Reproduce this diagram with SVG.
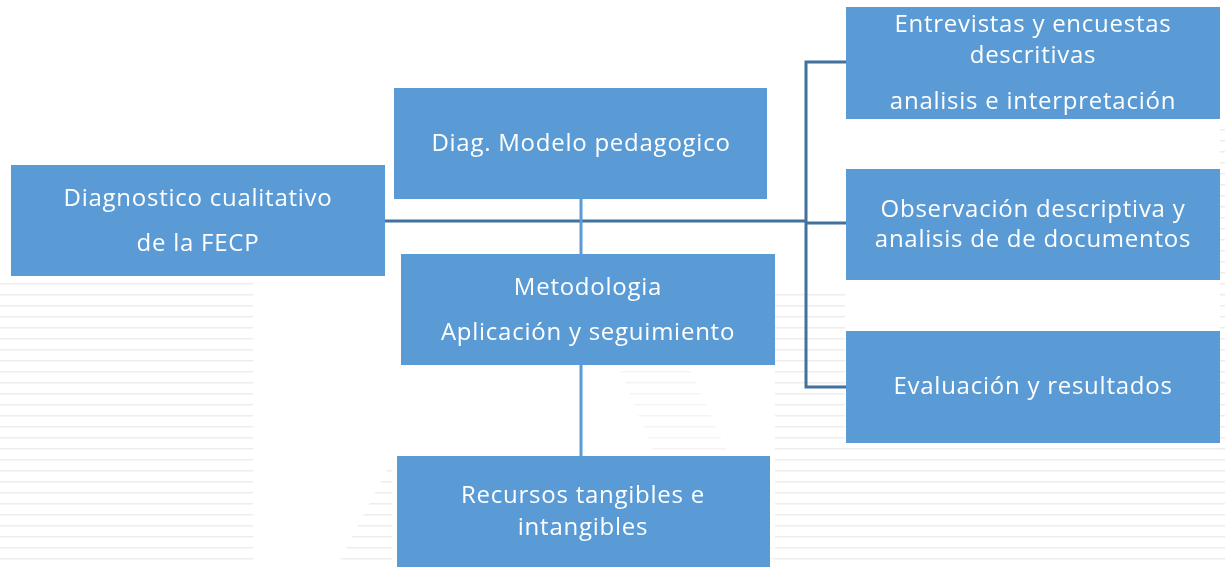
<svg xmlns="http://www.w3.org/2000/svg" width="1225" height="567" viewBox="0 0 1225 567">
<defs>
<pattern id="stripes" x="0" y="1" width="11" height="11" patternUnits="userSpaceOnUse">
<rect x="0" y="7" width="11" height="1.5" fill="#ebe8e8"/>
</pattern>
<style>
.box{fill:#5B9BD5;}
.t{font-family:"Open Sans","Liberation Sans",sans-serif;font-size:24px;letter-spacing:0.75px;fill:#ffffff;text-anchor:middle;}
.c1{stroke:#41719C;stroke-width:3;fill:none;}
.c2{stroke:#5B9BD5;stroke-width:3;fill:none;}
</style>
</defs>
<rect width="1225" height="567" fill="#ffffff"/>
<g id="watermark" opacity="0.8">
<rect x="0" y="282" width="253" height="285" fill="url(#stripes)"/>
<polygon points="340,560 392,460 392,567 330,567" fill="url(#stripes)"/>
<polygon points="620,370 690,370 780,567 700,567" fill="url(#stripes)" opacity="0.6"/>
<rect x="775" y="445" width="450" height="122" fill="url(#stripes)"/>
<rect x="775" y="285" width="70" height="160" fill="url(#stripes)"/>
<rect x="1220" y="120" width="5" height="330" fill="url(#stripes)"/>
</g>
<g id="connectors">
<line class="c1" x1="385" y1="221" x2="806" y2="221"/>
<polyline class="c1" points="846,62 806,62 806,387 846,387"/>
<line class="c1" x1="806" y1="223" x2="846" y2="223"/>
<line class="c2" x1="581" y1="199" x2="581" y2="254"/>
<line class="c2" x1="581" y1="365" x2="581" y2="456"/>
</g>
<g id="n1">
<rect class="box" x="11" y="165" width="374" height="111"/>
<text class="t" x="198" y="206">Diagnostico cualitativo</text>
<text class="t" x="198" y="251">de la FECP</text>
</g>
<g id="n2">
<rect class="box" x="394" y="88" width="373" height="111"/>
<text class="t" x="581" y="151">Diag. Modelo pedagogico</text>
</g>
<g id="n3">
<rect class="box" x="401" y="254" width="374" height="111"/>
<text class="t" x="588" y="295">Metodologia</text>
<text class="t" x="588" y="340">Aplicación y seguimiento</text>
</g>
<g id="n4">
<rect class="box" x="397" y="456" width="373" height="111"/>
<text class="t" x="583" y="503">Recursos tangibles e</text>
<text class="t" x="583" y="535">intangibles</text>
</g>
<g id="n5">
<rect class="box" x="846" y="7" width="374" height="112"/>
<text class="t" x="1033" y="32">Entrevistas y encuestas</text>
<text class="t" x="1033" y="63">descritivas</text>
<text class="t" x="1033" y="109">analisis e interpretación</text>
</g>
<g id="n6">
<rect class="box" x="846" y="169" width="374" height="111"/>
<text class="t" x="1033" y="217">Observación descriptiva y</text>
<text class="t" x="1033" y="247">analisis de de documentos</text>
</g>
<g id="n7">
<rect class="box" x="846" y="331" width="374" height="112"/>
<text class="t" x="1033" y="394">Evaluación y resultados</text>
</g>
</svg>
